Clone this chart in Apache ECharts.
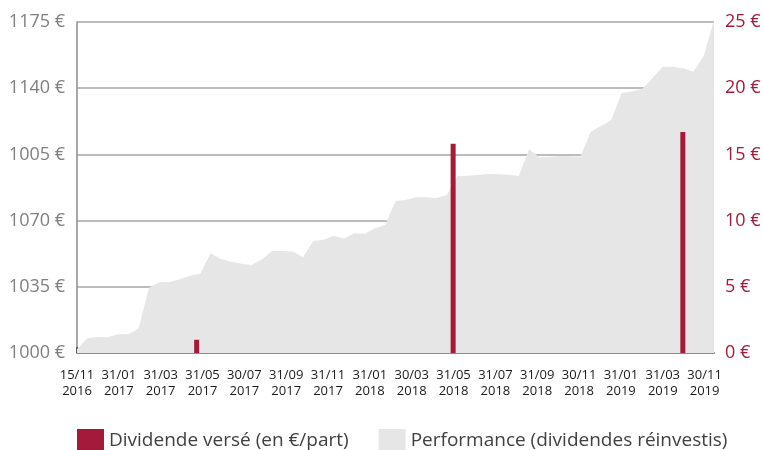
<!DOCTYPE html>
<html>
<head>
<meta charset="utf-8">
<script src="https://cdn.jsdelivr.net/npm/echarts@6/dist/echarts.min.js"></script>
<style>
  html, body { margin: 0; padding: 0; background: #fff; }
  #chart { width: 763px; height: 450px; }
</style>
</head>
<body>
<div id="chart"></div>
<script>
// x axis tick labels (one every two ticks)
var dateLabels = ['15/11\n2016', '31/01\n2017', '31/03\n2017', '31/05\n2017', '30/07\n2017',
  '31/09\n2017', '31/11\n2017', '31/01\n2018', '30/03\n2018', '31/05\n2018', '31/07\n2018',
  '31/09\n2018', '30/11\n2018', '31/01\n2019', '31/03\n2019', '30/11\n2019'];

// left axis labels, as printed
var leftLabels = ['1000 €', '1035 €', '1070 €', '1005 €', '1140 €', '1175 €'];

// performance (dividendes réinvestis), value of 1000 €
var perfValues = [1002, 1007.8, 1008.5, 1008.3, 1009.9, 1009.9, 1013, 1034.5, 1037.4, 1037.5,
  1039, 1040.9, 1041.9, 1052.7, 1049.7, 1048.2, 1047.2, 1046.5, 1049.5, 1053.9,
  1053.9, 1053.6, 1050.6, 1059.2, 1059.9, 1062, 1060.6, 1063.3, 1063.1, 1065.9,
  1067.7, 1080.4, 1080.9, 1082.3, 1082.3, 1082, 1083.5, 1093.6, 1093.7, 1094.1,
  1094.6, 1094.5, 1094.3, 1093.6, 1107.7, 1103.5, 1103.8, 1104.2, 1104, 1103.8,
  1117, 1120, 1123.2, 1137.3, 1138.2, 1139.6, 1145.2, 1151.4, 1151.4, 1150.5,
  1148.7, 1157, 1176];

// dividends: position in ticks, amount in €/part
var divTicks = [5.72, 17.98, 28.96];
var divValues = [1.0, 15.8, 16.7];

var chart = echarts.init(document.getElementById('chart'));

var font = '"Open Sans", sans-serif';

var option = {
  animation: false,
  grid: { left: 77, right: 49, top: 22, bottom: 97, outerBoundsMode: 'none' },
  legend: {
    left: 72,
    top: 424,
    itemWidth: 27,
    itemHeight: 24,
    itemGap: 30,
    textStyle: { fontFamily: font, fontSize: 19, color: '#404040' },
    data: [
      { name: 'Dividende versé (en €/part)', icon: 'rect' },
      { name: 'Performance (dividendes réinvestis)', icon: 'rect' }
    ]
  },
  xAxis: [{
    type: 'category',
    show: false,
    position: 'bottom',
    boundaryGap: false,
    data: perfValues.map(function (v, i) { return i; })
  }, {
    type: 'value',
    position: 'bottom',
    min: 0,
    max: 30.45,
    interval: 1,
    axisLine: { show: true, lineStyle: { color: '#8c8c8c', width: 2 } },
    axisTick: { show: true, inside: true, length: 6, lineStyle: { color: '#404040', width: 1.5 } },
    splitLine: { show: false },
    axisLabel: {
      showMaxLabel: false,
      margin: 14,
      fontFamily: font,
      fontSize: 13,
      lineHeight: 16,
      color: '#1a1a1a',
      formatter: function (v) {
        if (v % 2 !== 0) return '';
        return dateLabels[v / 2] || '';
      }
    }
  }],
  yAxis: [{
    type: 'value',
    min: 1000,
    max: 1175,
    interval: 35,
    axisLine: { show: true, lineStyle: { color: '#8c8c8c', width: 1.5 } },
    axisTick: { show: false },
    splitLine: { lineStyle: { color: '#a6a6a6', width: 1.5 } },
    axisLabel: {
      margin: 12,
      fontFamily: font,
      fontSize: 18,
      color: '#7f7f7f',
      formatter: function (v) { return leftLabels[Math.round((v - 1000) / 35)]; }
    }
  }, {
    type: 'value',
    min: 0,
    max: 25,
    interval: 5,
    axisLine: { show: false },
    axisTick: { show: false },
    splitLine: { show: false },
    axisLabel: {
      margin: 11,
      fontFamily: font,
      fontSize: 18,
      color: '#a31a3a',
      formatter: '{value} €'
    }
  }],
  series: [{
    name: 'Performance (dividendes réinvestis)',
    type: 'line',
    xAxisIndex: 0,
    yAxisIndex: 0,
    data: perfValues,
    symbol: 'none',
    lineStyle: { width: 0 },
    itemStyle: { color: '#e6e6e6' },
    areaStyle: { color: '#e6e6e6', opacity: 1, origin: 'start' },
    z: 1
  }, {
    name: 'Dividende versé (en €/part)',
    type: 'bar',
    xAxisIndex: 1,
    yAxisIndex: 1,
    barWidth: 5,
    data: divTicks.map(function (t, i) { return [t, divValues[i]]; }),
    itemStyle: { color: '#a31a3a' },
    z: 3
  }]
};

chart.setOption(option);
</script>
</body>
</html>
